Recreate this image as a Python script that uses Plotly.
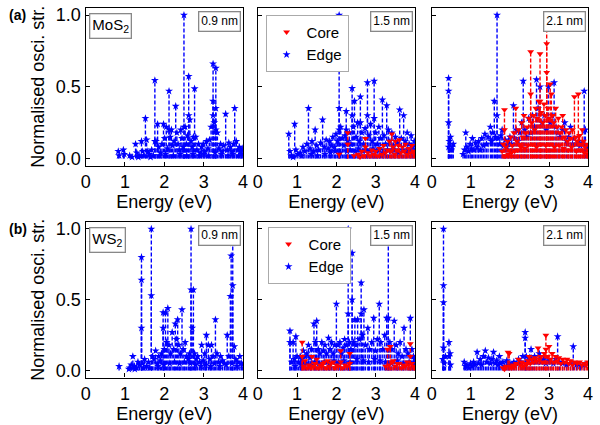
import plotly.graph_objects as go

# ---------------- data (energy in eV, normalised oscillator strength) ----------------
# (a) MoS2, 0.9 nm : edge only
A09_EDGE_E = [0.83, 0.85, 0.96, 0.98, 1.12, 1.18, 1.27, 1.30, 1.36, 1.42, 1.45, 1.52, 1.55, 1.58, 1.62, 1.68, 1.72,
              1.76, 1.76, 1.79, 1.83, 1.86, 1.90, 1.94, 1.98, 2.01, 2.05, 2.08, 2.12, 2.12, 2.15, 2.18, 2.21, 2.25,
              2.29, 2.32, 2.35, 2.38, 2.42, 2.45, 2.48, 2.50, 2.50, 2.50, 2.53, 2.56, 2.59, 2.62, 2.62, 2.65, 2.68,
              2.71, 2.74, 2.77, 2.80, 2.83, 2.87, 2.91, 2.95, 2.99, 3.03, 3.07, 3.11, 3.15, 3.19, 3.24, 3.24, 3.24,
              3.27, 3.31, 3.31, 3.31, 3.35, 3.39, 3.43, 3.47, 3.51, 3.56, 3.60, 3.64, 3.68, 3.72, 3.76, 3.79, 3.83,
              3.87, 3.91, 3.95, 3.98,
              1.34, 1.48, 1.65, 1.88, 2.03, 2.23, 2.40, 2.57, 2.73, 2.89, 3.01, 3.13, 3.29, 3.45, 3.62, 3.74, 3.89, 3.97]
A09_EDGE_F = [0.05, 0.02, 0.06, 0.03, 0.02, 0.01, 0.10, 0.04, 0.02, 0.12, 0.05, 0.28, 0.13, 0.05, 0.03, 0.06, 0.02,
              0.545, 0.12, 0.12, 0.24, 0.08, 0.04, 0.10, 0.24, 0.14, 0.22, 0.07, 0.47, 0.20, 0.15, 0.20, 0.09, 0.12,
              0.365, 0.18, 0.10, 0.06, 0.20, 0.14, 0.08, 1.00, 0.22, 0.06, 0.22, 0.10, 0.16, 0.573, 0.30, 0.27, 0.12,
              0.08, 0.15, 0.487, 0.15, 0.06, 0.10, 0.04, 0.08, 0.10, 0.05, 0.12, 0.07, 0.13, 0.22, 0.66, 0.40, 0.30,
              0.25, 0.63, 0.35, 0.20, 0.18, 0.07, 0.10, 0.05, 0.09, 0.31, 0.06, 0.11, 0.08, 0.05, 0.10, 0.35, 0.12,
              0.06, 0.08, 0.05, 0.07,
              0.01, 0.02, 0.01, 0.02, 0.03, 0.02, 0.03, 0.02, 0.03, 0.02, 0.03, 0.02, 0.04, 0.03, 0.02, 0.03, 0.02, 0.03]

# (a) MoS2, 1.5 nm
A15_EDGE_E = [0.79, 0.82, 0.86, 0.94, 0.97, 1.02, 1.08, 1.15, 1.20, 1.25, 1.29, 1.33, 1.38, 1.42, 1.46, 1.50, 1.55,
              1.60, 1.65, 1.69, 1.74, 1.79, 1.83, 1.87, 1.91, 1.95, 1.99, 2.03, 2.07, 2.07, 2.07, 2.11, 2.15, 2.19,
              2.22, 2.25, 2.25, 2.29, 2.33, 2.37, 2.40, 2.40, 2.43, 2.46, 2.50, 2.54, 2.58, 2.61, 2.61, 2.65, 2.69,
              2.73, 2.79, 2.79, 2.83, 2.87, 2.91, 2.96, 2.96, 3.00, 3.04, 3.08, 3.12, 3.17, 3.21, 3.25, 3.28, 3.32,
              3.36, 3.41, 3.45, 3.50, 3.55, 3.61, 3.65, 3.71, 3.75, 3.80, 3.85, 3.90, 3.95, 3.98,
              0.90, 1.12, 1.36, 1.52, 1.71, 1.85, 1.97, 2.09, 2.27, 2.35, 2.48, 2.56, 2.67, 2.76, 2.85, 2.93, 3.02,
              3.10, 3.19, 3.30, 3.39, 3.48, 3.58, 3.68, 3.78, 3.88, 3.93]
A15_EDGE_F = [0.17, 0.05, 0.02, 0.24, 0.06, 0.03, 0.04, 0.08, 0.05, 0.10, 0.35, 0.07, 0.12, 0.05, 0.20, 0.09, 0.06,
              0.11, 0.27, 0.08, 0.13, 0.07, 0.12, 0.09, 0.15, 0.08, 0.17, 0.12, 1.00, 0.35, 0.20, 0.22, 0.14, 0.09,
              0.16, 0.33, 0.20, 0.12, 0.18, 0.10, 0.49, 0.30, 0.22, 0.40, 0.15, 0.25, 0.12, 0.43, 0.25, 0.18, 0.10,
              0.21, 0.53, 0.30, 0.16, 0.24, 0.12, 0.54, 0.28, 0.18, 0.10, 0.22, 0.14, 0.41, 0.16, 0.10, 0.37, 0.20,
              0.12, 0.18, 0.09, 0.15, 0.11, 0.34, 0.14, 0.30, 0.12, 0.18, 0.10, 0.16, 0.08, 0.12,
              0.01, 0.02, 0.03, 0.02, 0.03, 0.04, 0.05, 0.04, 0.05, 0.06, 0.05, 0.07, 0.05, 0.06, 0.05, 0.07, 0.05,
              0.06, 0.04, 0.06, 0.05, 0.06, 0.04, 0.06, 0.05, 0.06, 0.04]
A15_CORE_E = [2.07, 2.29, 2.29, 2.45, 2.55, 2.60, 2.65, 2.70, 2.74, 2.74, 2.80, 2.85, 2.90, 2.95, 3.00, 3.05, 3.10,
              3.15, 3.20, 3.25, 3.30, 3.35, 3.38, 3.41, 3.44, 3.48, 3.50, 3.54, 3.58, 3.60, 3.64, 3.68, 3.72, 3.76,
              3.80, 3.84, 3.88, 3.92, 3.96, 3.99]
A15_CORE_F = [0.03, 0.18, 0.10, 0.02, 0.03, 0.01, 0.05, 0.02, 0.14, 0.08, 0.04, 0.02, 0.06, 0.03, 0.05, 0.02, 0.07,
              0.03, 0.09, 0.04, 0.06, 0.12, 0.05, 0.17, 0.08, 0.03, 0.12, 0.06, 0.09, 0.13, 0.04, 0.08, 0.05, 0.10,
              0.03, 0.07, 0.04, 0.09, 0.05, 0.03]

# (a) MoS2, 2.1 nm
A21_EDGE_E = [0.43, 0.43, 0.43, 0.43, 0.45, 0.48, 0.50, 0.52, 0.55, 0.80, 0.84, 0.87, 0.90, 0.94, 0.98, 1.01, 1.04,
              1.08, 1.12, 1.16, 1.20, 1.24, 1.28, 1.32, 1.36, 1.40, 1.44, 1.50, 1.53, 1.56, 1.60, 1.63, 1.67, 1.67,
              1.70, 1.74, 1.77, 1.80, 1.84, 1.88, 1.92, 1.96, 2.00, 2.04, 2.09, 2.12, 2.16, 2.20, 2.25, 2.30, 2.34,
              2.38, 2.43, 2.48, 2.53, 2.58, 2.63, 2.68, 2.72, 2.77, 2.82, 2.88, 2.93, 2.98, 3.03, 3.08, 3.13, 3.18,
              3.23, 3.28, 3.34, 3.40, 3.45, 3.50, 3.55, 3.60, 3.65, 3.70, 3.75, 3.80, 3.85, 3.90, 3.93, 3.97]
A21_EDGE_F = [0.56, 0.47, 0.25, 0.08, 0.12, 0.15, 0.06, 0.08, 0.10, 0.03, 0.06, 0.18, 0.08, 0.05, 0.10, 0.07, 0.14,
              0.06, 0.11, 0.08, 0.12, 0.06, 0.14, 0.09, 0.17, 0.10, 0.15, 0.22, 0.12, 0.18, 0.40, 0.15, 1.00, 0.30,
              0.14, 0.10, 0.16, 0.20, 0.09, 0.13, 0.08, 0.12, 0.15, 0.10, 0.37, 0.14, 0.20, 0.12, 0.18, 0.25, 0.54,
              0.20, 0.15, 0.28, 0.18, 0.30, 0.22, 0.55, 0.35, 0.50, 0.25, 0.30, 0.20, 0.50, 0.25, 0.30, 0.53, 0.22,
              0.18, 0.15, 0.20, 0.25, 0.12, 0.15, 0.22, 0.10, 0.14, 0.10, 0.12, 0.09, 0.11, 0.47, 0.20, 0.08]
A21_CORE_E = [1.80, 1.83, 1.86, 1.86, 1.90, 1.94, 1.98, 2.02, 2.06, 2.10, 2.15, 2.18, 2.22, 2.26, 2.30, 2.33, 2.36,
              2.40, 2.44, 2.48, 2.53, 2.53, 2.56, 2.60, 2.63, 2.66, 2.70, 2.74, 2.77, 2.77, 2.80, 2.84, 2.87, 2.90,
              2.94, 2.94, 2.94, 2.97, 3.00, 3.03, 3.06, 3.09, 3.12, 3.17, 3.20, 3.24, 3.28, 3.32, 3.35, 3.39, 3.43,
              3.47, 3.51, 3.55, 3.60, 3.65, 3.68, 3.72, 3.75, 3.78, 3.82, 3.85, 3.88, 3.92, 3.96, 3.99,
              1.88, 1.96, 2.04, 2.12, 2.20, 2.28, 2.38, 2.46, 2.58, 2.68, 2.79, 2.92, 3.01, 3.14, 3.26, 3.37, 3.49,
              3.58, 3.70, 3.80, 3.90, 3.98]
A21_CORE_F = [0.05, 0.10, 0.34, 0.20, 0.08, 0.12, 0.06, 0.15, 0.09, 0.18, 0.35, 0.12, 0.20, 0.10, 0.25, 0.15, 0.30,
              0.18, 0.22, 0.28, 0.745, 0.45, 0.25, 0.30, 0.20, 0.35, 0.28, 0.40, 0.73, 0.40, 0.32, 0.25, 0.38, 0.30,
              1.00, 0.80, 0.60, 0.35, 0.28, 0.52, 0.45, 0.30, 0.25, 0.35, 0.22, 0.28, 0.18, 0.22, 0.30, 0.15, 0.20,
              0.12, 0.18, 0.14, 0.20, 0.43, 0.15, 0.12, 0.45, 0.16, 0.10, 0.20, 0.12, 0.08, 0.10, 0.06,
              0.02, 0.03, 0.04, 0.05, 0.06, 0.08, 0.07, 0.09, 0.10, 0.08, 0.10, 0.09, 0.10, 0.08, 0.09, 0.07, 0.06,
              0.08, 0.05, 0.06, 0.04, 0.03]

# (b) WS2, 0.9 nm : edge only
B09_EDGE_E = [0.85, 1.10, 1.12, 1.16, 1.20, 1.24, 1.29, 1.33, 1.37, 1.42, 1.42, 1.42, 1.45, 1.50, 1.55, 1.60, 1.67,
              1.67, 1.70, 1.74, 1.78, 1.82, 1.86, 1.90, 1.93, 1.97, 1.97, 2.00, 2.03, 2.06, 2.09, 2.12, 2.16, 2.20,
              2.24, 2.28, 2.31, 2.34, 2.37, 2.41, 2.45, 2.48, 2.53, 2.57, 2.61, 2.64, 2.68, 2.68, 2.71, 2.74, 2.77,
              2.81, 2.85, 2.90, 2.95, 2.99, 3.03, 3.07, 3.12, 3.16, 3.20, 3.24, 3.30, 3.34, 3.38, 3.43, 3.48, 3.53,
              3.60, 3.64, 3.68, 3.70, 3.74, 3.74, 3.78, 3.82, 3.87, 3.92, 3.96,
              1.25, 1.47, 1.63, 1.84, 1.99, 2.14, 2.26, 2.39, 2.51, 2.66, 2.79, 2.93, 3.05, 3.18, 3.27, 3.41, 3.57,
              3.72, 3.85, 3.99]
B09_EDGE_F = [0.03, 0.01, 0.02, 0.04, 0.10, 0.03, 0.02, 0.06, 0.04, 0.80, 0.64, 0.30, 0.05, 0.08, 0.03, 0.06, 1.00,
              0.53, 0.10, 0.08, 0.14, 0.05, 0.10, 0.07, 0.12, 0.41, 0.30, 0.15, 0.41, 0.20, 0.44, 0.18, 0.12, 0.27,
              0.15, 0.33, 0.22, 0.36, 0.18, 0.12, 0.43, 0.15, 0.20, 0.10, 0.08, 0.12, 1.00, 0.57, 0.30, 0.57, 0.12,
              0.08, 0.10, 0.06, 0.18, 0.07, 0.12, 0.25, 0.18, 0.08, 0.18, 0.10, 0.36, 0.12, 0.06, 0.10, 0.07, 0.05,
              0.25, 0.10, 0.525, 0.81, 0.90, 0.60, 0.17, 0.08, 0.06, 0.10, 0.05,
              0.01, 0.02, 0.02, 0.03, 0.04, 0.05, 0.06, 0.05, 0.06, 0.05, 0.04, 0.03, 0.04, 0.03, 0.05, 0.03, 0.04,
              0.05, 0.03, 0.04]

# (b) WS2, 1.5 nm
B15_EDGE_E = [0.82, 0.82, 0.86, 0.90, 0.93, 0.97, 1.00, 1.04, 1.08, 1.12, 1.16, 1.20, 1.25, 1.29, 1.33, 1.37, 1.43,
              1.47, 1.50, 1.54, 1.58, 1.63, 1.67, 1.71, 1.75, 1.80, 1.84, 1.88, 1.92, 1.96, 2.00, 2.04, 2.09, 2.13,
              2.17, 2.21, 2.25, 2.30, 2.30, 2.33, 2.37, 2.40, 2.40, 2.44, 2.47, 2.50, 2.54, 2.58, 2.63, 2.63, 2.66,
              2.70, 2.74, 2.80, 2.84, 2.90, 2.95, 2.99, 3.04, 3.09, 3.13, 3.18, 3.23, 3.28, 3.32, 3.32, 3.36, 3.41,
              3.47, 3.52, 3.57, 3.62, 3.67, 3.72, 3.77, 3.82, 3.88, 3.92, 3.96, 3.99,
              0.95, 1.10, 1.22, 1.35, 1.45, 1.56, 1.69, 1.82, 1.94, 2.06, 2.19, 2.35, 2.52, 2.68, 2.82, 2.97, 3.11,
              3.25, 3.39, 3.55, 3.70, 3.85, 3.94]
B15_EDGE_F = [0.28, 0.20, 0.06, 0.20, 0.08, 0.24, 0.10, 0.06, 0.10, 0.08, 0.14, 0.10, 0.12, 0.18, 0.09, 0.15, 0.33,
              0.20, 0.35, 0.15, 0.12, 0.20, 0.14, 0.18, 0.12, 0.23, 0.15, 0.20, 0.12, 0.18, 0.47, 0.18, 0.20, 0.12,
              0.16, 0.22, 0.18, 1.00, 0.40, 0.20, 0.15, 0.83, 0.50, 0.20, 0.36, 0.18, 0.36, 0.22, 0.62, 0.40, 0.25,
              0.43, 0.18, 0.30, 0.15, 0.20, 0.37, 0.14, 0.22, 0.47, 0.20, 0.15, 0.25, 0.37, 1.00, 0.37, 0.20, 0.15,
              0.35, 0.18, 0.12, 0.20, 0.10, 0.30, 0.15, 0.12, 0.37, 0.15, 0.10, 0.08,
              0.03, 0.04, 0.05, 0.04, 0.06, 0.05, 0.06, 0.05, 0.07, 0.06, 0.07, 0.06, 0.08, 0.07, 0.06, 0.08, 0.07,
              0.06, 0.05, 0.07, 0.05, 0.06, 0.04]
B15_CORE_E = [1.13, 1.13, 1.17, 1.20, 1.25, 1.30, 1.35, 1.38, 1.42, 1.46, 1.50, 1.54, 1.58, 1.62, 1.66, 1.70, 1.74,
              1.78, 1.82, 1.86, 1.92, 1.96, 2.00, 2.05, 2.11, 2.11, 2.16, 2.22, 2.28, 2.34, 2.34, 3.25, 3.30, 3.34,
              3.37, 3.41, 3.45, 3.50, 3.55, 3.60, 3.65, 3.70, 3.75, 3.80, 3.84, 3.88, 3.88, 3.92, 3.96, 3.99]
B15_CORE_F = [0.20, 0.10, 0.03, 0.07, 0.02, 0.04, 0.02, 0.10, 0.03, 0.05, 0.08, 0.02, 0.04, 0.03, 0.05, 0.06, 0.02,
              0.07, 0.03, 0.05, 0.06, 0.02, 0.04, 0.03, 0.14, 0.06, 0.02, 0.04, 0.03, 0.12, 0.05, 0.03, 0.15, 0.04,
              0.17, 0.06, 0.07, 0.03, 0.05, 0.05, 0.02, 0.04, 0.03, 0.06, 0.04, 0.19, 0.10, 0.05, 0.03, 0.02]

# (b) WS2, 2.1 nm
B21_EDGE_E = [0.30, 0.30, 0.30, 0.30, 0.28, 0.32, 0.35, 0.44, 0.44, 0.47, 0.48, 0.83, 0.86, 0.90, 0.95, 0.99, 1.03,
              1.07, 1.11, 1.16, 1.20, 1.24, 1.28, 1.32, 1.37, 1.41, 1.45, 1.50, 1.54, 1.58, 1.62, 1.66, 1.70, 1.73,
              1.77, 1.82, 1.86, 1.92, 1.96, 2.00, 2.05, 2.10, 2.16, 2.22, 2.28, 2.33, 2.39, 2.39, 2.42, 2.46, 2.50,
              2.54, 2.58, 2.63, 2.68, 2.75, 2.80, 2.86, 2.92, 2.98, 3.05, 3.11, 3.17, 3.22, 3.27, 3.35, 3.45, 3.55,
              3.62, 3.70, 3.80, 3.90]
B21_EDGE_F = [1.00, 0.60, 0.48, 0.16, 0.08, 0.05, 0.10, 0.20, 0.10, 0.12, 0.04, 0.06, 0.03, 0.04, 0.02, 0.05, 0.03,
              0.06, 0.04, 0.13, 0.05, 0.08, 0.04, 0.10, 0.14, 0.06, 0.09, 0.05, 0.08, 0.13, 0.05, 0.07, 0.04, 0.10,
              0.05, 0.06, 0.03, 0.07, 0.04, 0.05, 0.04, 0.06, 0.05, 0.08, 0.06, 0.10, 0.27, 0.23, 0.10, 0.07, 0.09,
              0.15, 0.07, 0.10, 0.06, 0.12, 0.06, 0.08, 0.05, 0.07, 0.06, 0.05, 0.08, 0.24, 0.06, 0.05, 0.04, 0.05,
              0.17, 0.04, 0.03, 0.04]
B21_CORE_E = [1.82, 1.86, 1.90, 1.95, 1.98, 2.00, 2.04, 2.08, 2.12, 2.16, 2.22, 2.26, 2.30, 2.34, 2.38, 2.42, 2.46,
              2.49, 2.52, 2.56, 2.60, 2.64, 2.68, 2.72, 2.76, 2.80, 2.84, 2.88, 2.92, 2.92, 2.96, 3.00, 3.04, 3.08,
              3.12, 3.17, 3.21, 3.25, 3.30, 3.35, 3.40, 3.46, 3.50, 3.55, 3.60, 3.65, 3.72, 3.78, 3.84, 3.90, 3.95,
              3.99]
B21_CORE_F = [0.02, 0.01, 0.03, 0.13, 0.12, 0.03, 0.02, 0.04, 0.03, 0.05, 0.08, 0.04, 0.06, 0.03, 0.05, 0.04, 0.07,
              0.10, 0.05, 0.08, 0.06, 0.09, 0.07, 0.16, 0.08, 0.10, 0.06, 0.12, 0.25, 0.15, 0.10, 0.17, 0.08, 0.12,
              0.06, 0.10, 0.07, 0.09, 0.05, 0.08, 0.06, 0.08, 0.05, 0.07, 0.04, 0.06, 0.05, 0.06, 0.04, 0.05, 0.04,
              0.06]

SIZES = ["0.9 nm", "1.5 nm", "2.1 nm"]
MATERIALS = ["MoS<sub>2</sub>", "WS<sub>2</sub>"]
PANEL_LETTERS = ["(a)", "(b)"]
X_TICKS = [0, 1, 2, 3, 4]
Y_TICKS = [0, 0.5, 1.0]
Y_TICK_TEXT = ["0.0", "0.5", "1.0"]

# panel layout: rows x columns -> (edge, core)
PANELS = [
    [(A09_EDGE_E, A09_EDGE_F, None, None), (A15_EDGE_E, A15_EDGE_F, A15_CORE_E, A15_CORE_F),
     (A21_EDGE_E, A21_EDGE_F, A21_CORE_E, A21_CORE_F)],
    [(B09_EDGE_E, B09_EDGE_F, None, None), (B15_EDGE_E, B15_EDGE_F, B15_CORE_E, B15_CORE_F),
     (B21_EDGE_E, B21_EDGE_F, B21_CORE_E, B21_CORE_F)],
]

# ---------------- figure ----------------
W, H = 600, 425
XDOM = [(82, 242), (257, 417), (434, 593)]
YDOM = [(5, 165), (222, 380)]  # top, bottom in px
BLUE = "#0000ff"
RED = "#ff0000"
FONT = "Arial, Liberation Sans, sans-serif"

fig = go.Figure()


def stems(E, F):
    xs, ys = [], []
    for e, f in zip(E, F):
        xs += [e, e, None]
        ys += [0, f, None]
    return xs, ys


layout_axes = {}
annotations = []
for r in range(2):
    for c in range(3):
        idx = r * 3 + c + 1
        xa = "x" if idx == 1 else f"x{idx}"
        ya = "y" if idx == 1 else f"y{idx}"
        edgeE, edgeF, coreE, coreF = PANELS[r][c]
        legend_name = "legend" if r == 0 else "legend2"
        show_leg = (c == 1)
        series = [(edgeE, edgeF, BLUE, "star", 6, "Edge", 2)]
        if coreE is not None:
            series.append((coreE, coreF, RED, "triangle-down", 6, "Core", 1))
        for E, F, col, sym, ms, name, rank in series:
            sx, sy = stems(E, F)
            fig.add_trace(go.Scatter(x=sx, y=sy, mode="lines", xaxis=xa, yaxis=ya,
                                     line=dict(color=col, width=1.4, dash="4px,2px"),
                                     showlegend=False, hoverinfo="skip"))
            fig.add_trace(go.Scatter(x=E, y=F, mode="markers", xaxis=xa, yaxis=ya, name=name,
                                     marker=dict(color=col, symbol=sym, size=ms, line=dict(width=0)),
                                     showlegend=show_leg, legend=legend_name, legendrank=rank))

        x0, x1 = XDOM[c]
        t, b = YDOM[r]
        xkey = "xaxis" if idx == 1 else f"xaxis{idx}"
        ykey = "yaxis" if idx == 1 else f"yaxis{idx}"
        layout_axes[xkey] = dict(domain=[x0 / W, x1 / W], range=[0, 4], anchor=ya,
                                 tickvals=X_TICKS, ticks="inside", ticklen=4, tickwidth=1, tickcolor="#000",
                                 showline=True, linecolor="#000", linewidth=1.3, mirror=True,
                                 showgrid=False, zeroline=False,
                                 tickfont=dict(size=18, color="#000", family=FONT),
                                 title=dict(text="Energy (eV)", font=dict(size=18, color="#000", family=FONT),
                                            standoff=3))
        layout_axes[ykey] = dict(domain=[1 - b / H, 1 - t / H], range=[-0.05, 1.05], anchor=xa,
                                 tickvals=Y_TICKS, ticktext=Y_TICK_TEXT, ticks="inside", ticklen=4,
                                 tickwidth=1, tickcolor="#000", showticklabels=(c == 0),
                                 showline=True, linecolor="#000", linewidth=1.3, mirror=True,
                                 showgrid=False, zeroline=False,
                                 tickfont=dict(size=18, color="#000", family=FONT))
        if c == 0:
            layout_axes[ykey]["title"] = dict(text="Normalised osci. str.",
                                              font=dict(size=18, color="#000", family=FONT), standoff=6)
            annotations.append(dict(x=(x0 + 3) / W, y=1 - (t + 5) / H, xref="paper", yref="paper",
                                    xanchor="left", yanchor="top", text=MATERIALS[r], showarrow=False,
                                    font=dict(size=15, color="#000", family=FONT),
                                    bordercolor="#888", borderwidth=1.3, borderpad=2, bgcolor="white"))
            annotations.append(dict(x=2 / W, y=1 - (t - 3) / H, xref="paper", yref="paper",
                                    xanchor="left", yanchor="top", text="<b>" + PANEL_LETTERS[r] + "</b>",
                                    showarrow=False, font=dict(size=14, color="#000", family=FONT)))
        annotations.append(dict(x=(x1 - 2) / W, y=1 - (t + 3) / H, xref="paper", yref="paper",
                                xanchor="right", yanchor="top", text=SIZES[c], showarrow=False,
                                font=dict(size=12, color="#000", family=FONT),
                                bordercolor="#888", borderwidth=1.3, borderpad=2, bgcolor="white"))

leg_common = dict(xanchor="left", yanchor="top", bgcolor="white", bordercolor="#aaa", borderwidth=1,
                  font=dict(size=15, color="#000", family=FONT), tracegroupgap=0, itemwidth=30)
fig.update_layout(
    width=W, height=H, margin=dict(l=0, r=0, t=0, b=0),
    paper_bgcolor="white", plot_bgcolor="white",
    font=dict(family=FONT, color="#000"),
    legend=dict(x=265 / W, y=1 - 12 / H, **leg_common),
    legend2=dict(x=267 / W, y=1 - 227 / H, **leg_common),
    annotations=annotations,
    **layout_axes,
)

fig.write_html("out.html")
